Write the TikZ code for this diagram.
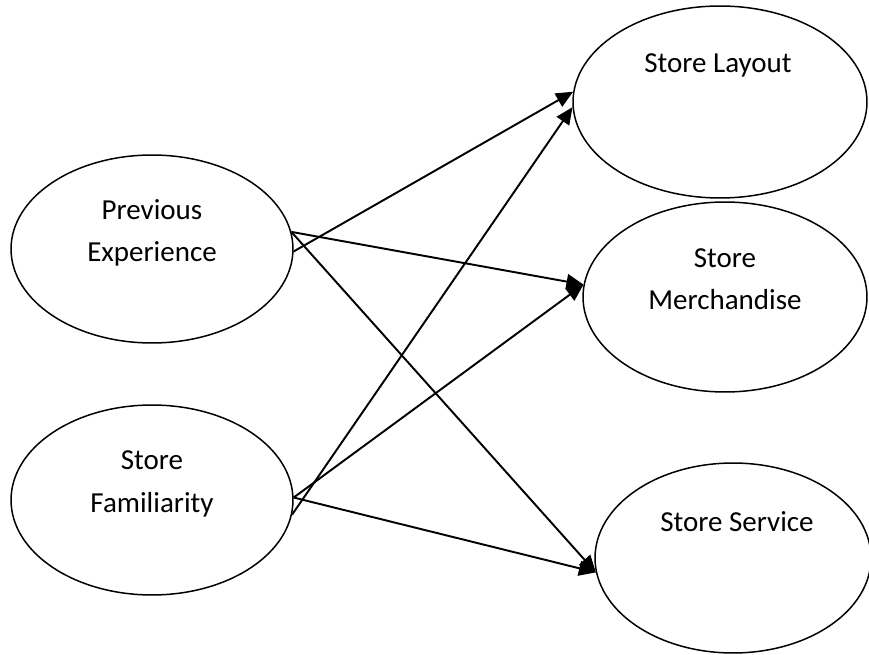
\documentclass[tikz,border=0pt]{standalone}
\usepackage{fontspec}
\setmainfont{Carlito}
\usetikzlibrary{arrows.meta,shapes.geometric}

\begin{document}
\begin{tikzpicture}[x=0.02cm, y=-0.02cm,
oval/.style={draw, ellipse, line width=0.85pt, inner sep=0pt},
txt/.style={align=center, font=\fontsize{16.5}{24}\selectfont},
arrow/.style={-{Triangle[length=0.34cm,width=0.3cm]}, line width=1.1pt}
]
\useasboundingbox (0,0) rectangle (869,655);
% left side
\node[oval, minimum width=5.64cm, minimum height=3.76cm] (pe) at (152,249) {};
\node[oval, minimum width=5.64cm, minimum height=3.8cm] (sf) at (152,500) {};
\node[txt] (pe-text) at (152,233) {Previous\\Experience};
\node[txt] (sf-text) at (152,484) {Store\\Familiarity};
% right side
\node[oval, minimum width=5.88cm, minimum height=3.84cm] (layout) at (720,102) {};
\node[oval, minimum width=5.68cm, minimum height=3.8cm] (merch) at (725,297) {};
\node[oval, minimum width=5.52cm, minimum height=3.8cm] (service) at (733,558) {};
\node[txt] (layout-text) at (718,65) {Store Layout};
\node[txt] (merch-text) at (725,279) {Store\\Merchandise};
\node[txt] (service-text) at (737,522) {Store Service};

\draw[arrow] (pe.-1) -- (layout.176);
\draw[arrow] (pe.7) -- (merch.175);
\draw[arrow] (pe.7) -- (service.186);
\draw[arrow] (sf.-6) -- (layout.182);
\draw[arrow] (sf.1) -- (merch.175);
\draw[arrow] (sf.1) -- (service.186);
\end{tikzpicture}
\end{document}
